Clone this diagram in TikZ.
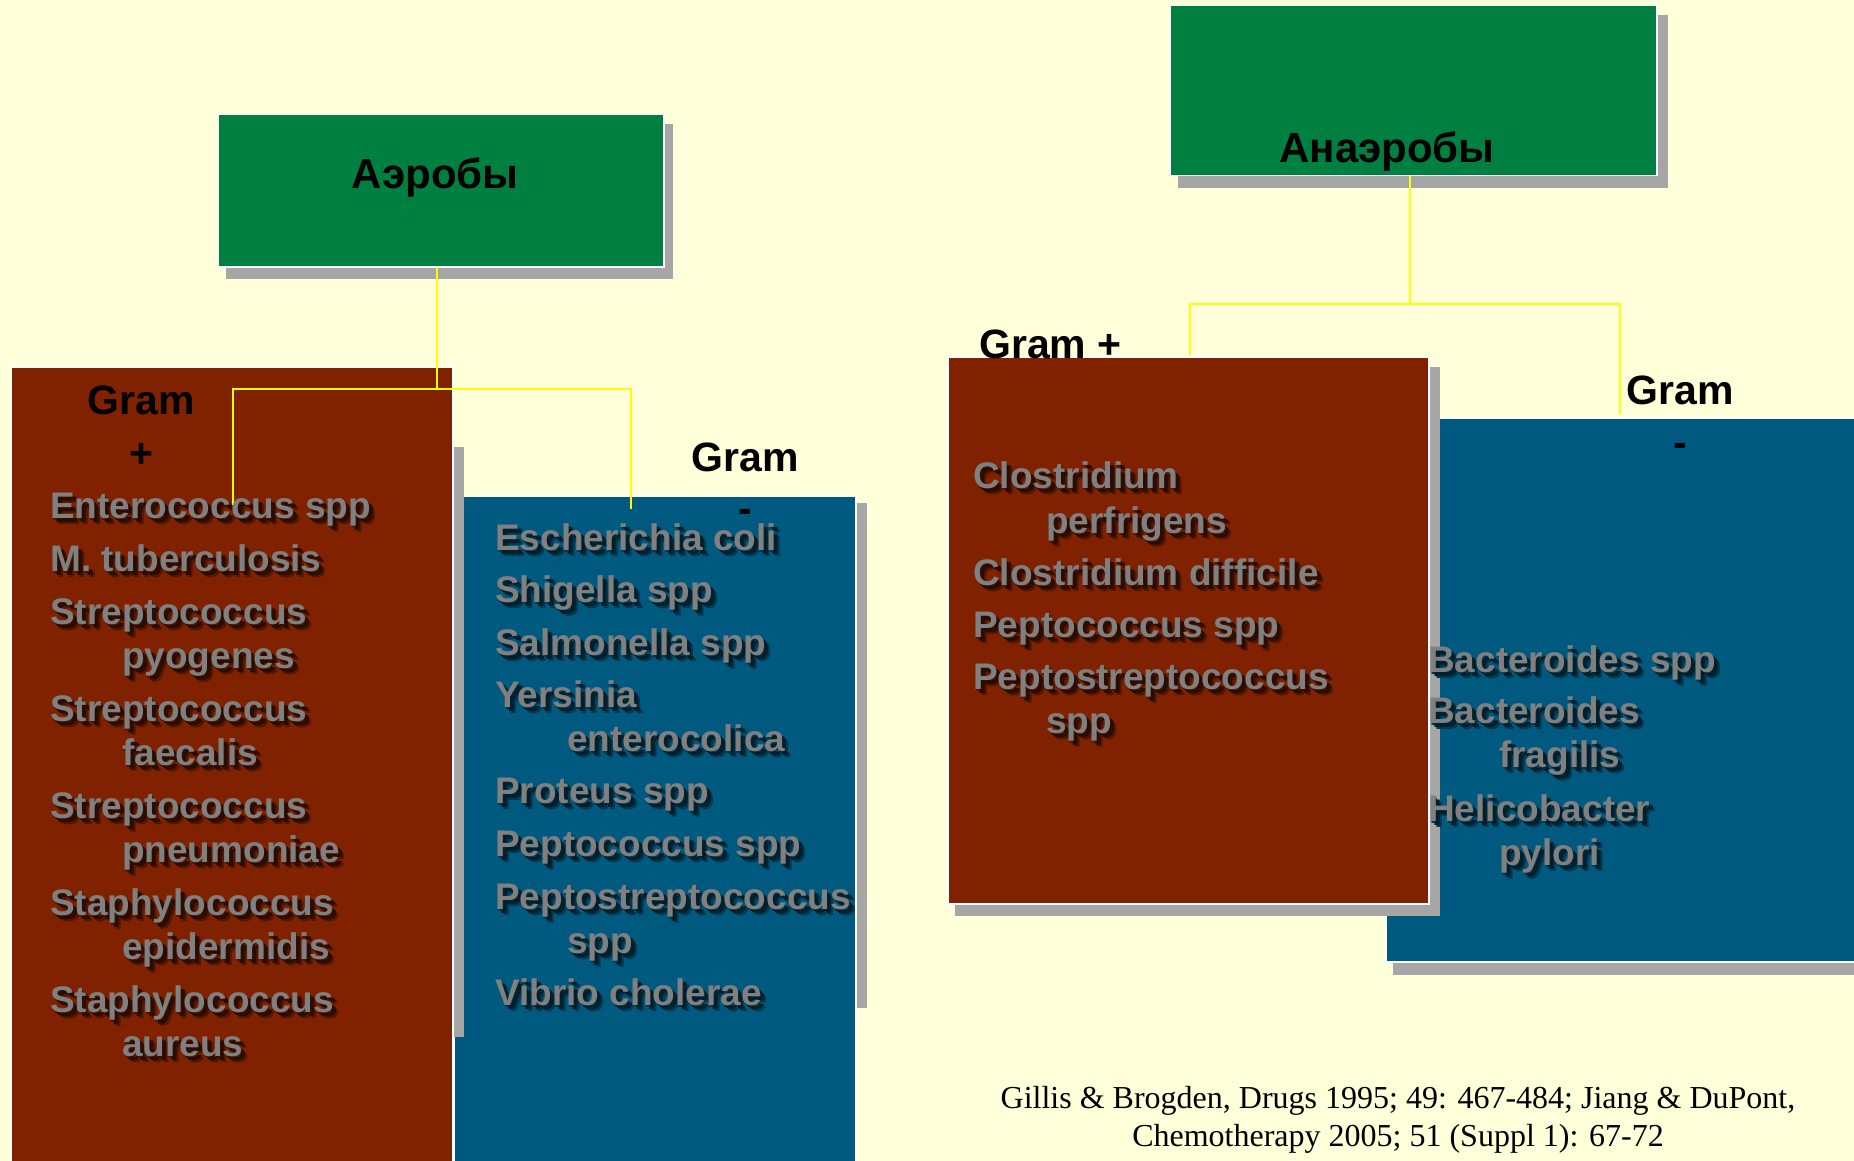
\documentclass[tikz,border=0pt]{standalone}
\usepackage{fontspec}
\setmainfont{Liberation Sans}
\newfontfamily\citefont{Liberation Serif}
\definecolor{bg}{HTML}{FFFFDA}
\definecolor{grn}{HTML}{008040}
\definecolor{rbr}{HTML}{802200}
\definecolor{blu}{HTML}{005A80}
\definecolor{shd}{HTML}{A6A6A6}
\definecolor{itg}{HTML}{808080}
\definecolor{yel}{HTML}{FFFF00}
\colorlet{shA}{rbr!65!black}
\colorlet{shB}{rbr!35!black}
\newcommand\redshadows{\colorlet{shA}{rbr!65!black}\colorlet{shB}{rbr!35!black}}
\newcommand\blueshadows{\colorlet{shA}{blu!65!black}\colorlet{shB}{blu!35!black}}
\newcommand\shadowed[1]{%
  \makebox[0pt][l]{\hspace{6pt}\raisebox{-6pt}{\textcolor{shA}{#1}}}%
  \makebox[0pt][l]{\hspace{1pt}\raisebox{-2pt}{\textcolor{shA}{#1}}}%
  \makebox[0pt][l]{\hspace{4pt}\raisebox{-4pt}{\textcolor{shB}{#1}}}%
  #1}
\tikzset{
  boxshadow/.style={fill=shd, draw=none},
  greenbox/.style={fill=grn, draw=white, line width=1.5pt},
  redbox/.style={fill=rbr, draw=white, line width=1.5pt},
  bluebox/.style={fill=blu, draw=white, line width=1.5pt},
  yline/.style={draw=yel, line width=2.5pt},
  head/.style={anchor=base, inner sep=0pt, font=\bfseries\fontsize{42}{50}\selectfont, text=black},
  gram/.style={anchor=base, inner sep=0pt, font=\bfseries\fontsize{41}{49}\selectfont, text=black},
  itm/.style={anchor=base west, inner sep=0pt, font=\bfseries\fontsize{37}{44}\selectfont, text=itg},
  cite/.style={anchor=base, inner sep=0pt, font=\citefont\fontsize{32}{38}\selectfont, text=black}
}
\newcommand\itm[4]{\node[itm] (#1) at (#2,#3) {\shadowed{#4}};}
\begin{document}
\begin{tikzpicture}[x=1pt,y=-1pt]
\fill[bg] (0,0) rectangle (1854,1161);
\useasboundingbox (0,0) rectangle (1854,1161);

% ---------- Aerobes ----------
\fill[boxshadow] (226,124) rectangle (673,279);
\node[greenbox, minimum width=446pt, minimum height=152pt, anchor=north west, inner sep=0pt] (aer) at (217,114) {};
\node[head] (aerlbl) at (435,189) {Аэробы};

% Gram- (blue) box
\fill[boxshadow] (857,503) rectangle (867,1008);
\node[bluebox, minimum width=402pt, minimum height=700pt, anchor=north west, inner sep=0pt] (aneg) at (453,495) {};
% Gram+ (red) box
\fill[boxshadow] (453,447) rectangle (464,1037);
\node[redbox, minimum width=442pt, minimum height=830pt, anchor=north west, inner sep=0pt] (apos) at (10,366) {};

\coordinate (aj) at (437,389);
\coordinate (la) at (233,505);
\coordinate (ra) at (631,509);
\draw[yline] (aer.south -| aj) -- (aj);
\draw[yline] (la) |- (aj) -| (ra);

\node[gram] (apg1) at (141,414) {Gram};
\node[gram] (apg2) at (141,467) {+};
\node[gram] (ang1) at (745,471) {Gram};
\node[gram] (ang2) at (745,522) {-};

\redshadows
\itm{a1}{50}{518}{Enterococcus spp}
\itm{a2}{50}{571}{M. tuberculosis}
\itm{a3}{50}{624}{Streptococcus}
\itm{a4}{122}{668}{pyogenes}
\itm{a5}{50}{721}{Streptococcus}
\itm{a6}{122}{765}{faecalis}
\itm{a7}{50}{818}{Streptococcus}
\itm{a8}{122}{862}{pneumoniae}
\itm{a9}{50}{915}{Staphylococcus}
\itm{a10}{122}{959}{epidermidis}
\itm{a11}{50}{1012}{Staphylococcus}
\itm{a12}{122}{1056}{aureus}

\blueshadows
\itm{b1}{495}{550}{Escherichia coli}
\itm{b2}{495}{602}{Shigella spp}
\itm{b3}{495}{655}{Salmonella spp}
\itm{b4}{495}{707}{Yersinia}
\itm{b5}{567}{751}{enterocolica}
\itm{b6}{495}{803}{Proteus spp}
\itm{b7}{495}{856}{Peptococcus spp}
\itm{b8}{495}{909}{Peptostreptococcus}
\itm{b9}{567}{953}{spp}
\itm{b10}{495}{1005}{Vibrio cholerae}

% ---------- Anaerobes ----------
\fill[boxshadow] (1178,15) rectangle (1668,188);
\node[greenbox, minimum width=487pt, minimum height=170pt, anchor=north west, inner sep=0pt] (ana) at (1169,5) {};
\node[head] (analbl) at (1387,163) {Анаэробы};

\coordinate (bj) at (1410,304);
\coordinate (lb) at (1190,355);
\coordinate (rb) at (1620,415);
\draw[yline, line width=2pt] (ana.south -| bj) -- (bj);
\draw[yline, line width=2pt] (lb) |- (bj) -| (rb);

% Gram- (blue) box
\fill[boxshadow] (1393,425) rectangle (1870,975);
\node[bluebox, minimum width=480pt, minimum height=544pt, anchor=north west, inner sep=0pt] (bneg) at (1385,417) {};
\node[gram] (bng1) at (1680,404) {Gram};
\node[gram] (bng2) at (1680,456) {-};

% Gram+ (red) box
\fill[boxshadow] (955,367) rectangle (1440,916);
\node[redbox, minimum width=481pt, minimum height=547pt, anchor=north west, inner sep=0pt] (bpos) at (947,356) {};
\node[gram, anchor=base west] (bpg) at (979,358) {Gram +};

\redshadows
\itm{c1}{973}{488}{Clostridium}
\itm{c2}{1046}{533}{perfrigens}
\itm{c3}{973}{585}{Clostridium difficile}
\itm{c4}{973}{637}{Peptococcus spp}
\itm{c5}{973}{689}{Peptostreptococcus}
\itm{c6}{1046}{733}{spp}

\blueshadows
\itm{d1}{1428}{672}{Bacteroides spp}
\itm{d2}{1428}{723}{Bacteroides}
\itm{d3}{1499}{767}{fragilis}
\itm{d4}{1428}{821}{Helicobacter}
\itm{d5}{1499}{865}{pylori}

% ---------- Citation ----------
\node[cite] (cit1) at (1398,1108) {Gillis \& Brogden, Drugs 1995; 49: 467-484; Jiang \& DuPont,};
\node[cite] (cit2) at (1398,1146) {Chemotherapy 2005; 51 (Suppl 1): 67-72};
\end{tikzpicture}
\end{document}
